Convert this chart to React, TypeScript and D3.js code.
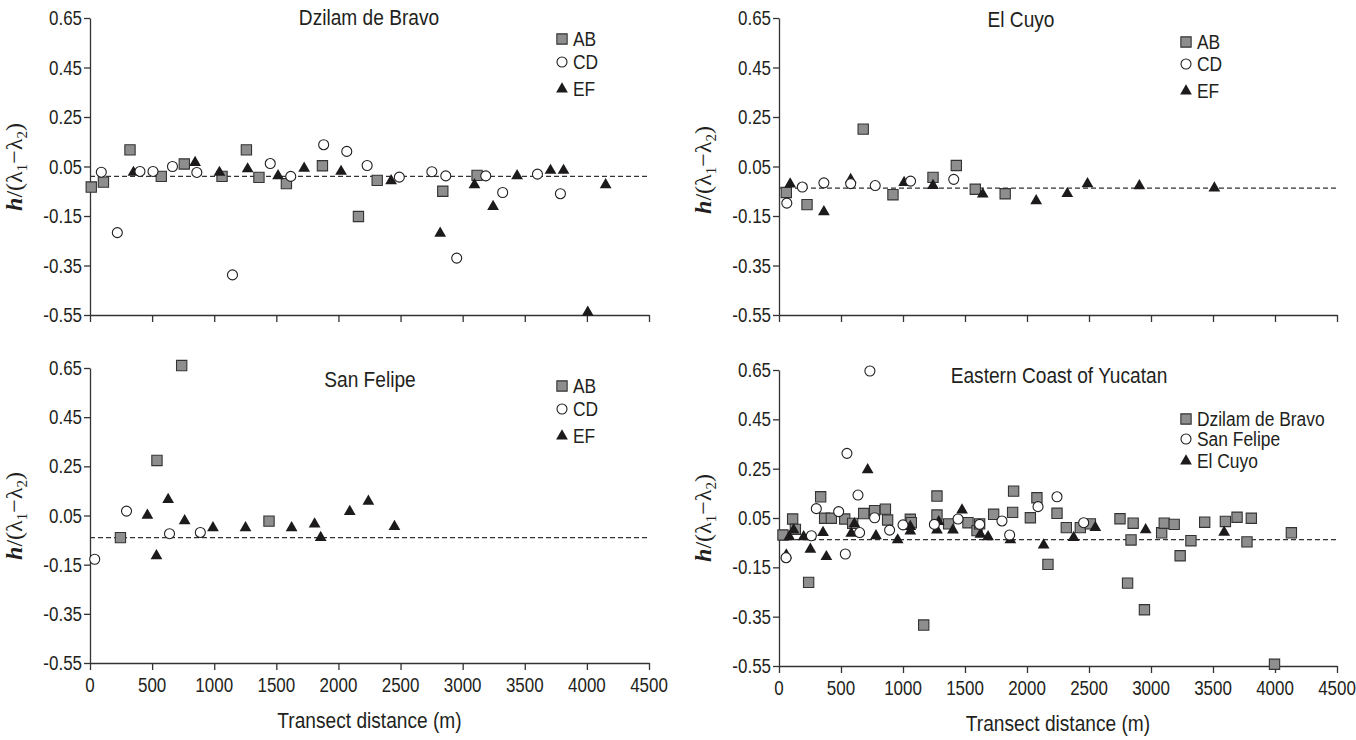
import React, { useRef, useEffect } from "react";
import * as d3 from "d3";

type Pt = [number, number];

const yTicks = [0.65, 0.45, 0.25, 0.05, -0.15, -0.35, -0.55];
const xTicks = [0, 500, 1000, 1500, 2000, 2500, 3000, 3500, 4000, 4500];

// Dzilam de Bravo
const dzilamAB: Pt[] = [
  [10, -0.033], [108, -0.013], [322, 0.117], [574, 0.01], [759, 0.06], [1063, 0.01],
  [1259, 0.117], [1360, 0.006], [1581, -0.019], [1871, 0.053], [2161, -0.152],
  [2312, -0.006], [2840, -0.05], [3116, 0.014],
];
const dzilamCD: Pt[] = [
  [91, 0.027], [220, -0.217], [402, 0.03], [507, 0.03], [664, 0.05], [860, 0.026],
  [1147, -0.388], [1451, 0.062], [1616, 0.01], [1881, 0.138], [2067, 0.111],
  [2231, 0.054], [2490, 0.007], [2752, 0.029], [2864, 0.012], [2952, -0.32],
  [3186, 0.012], [3322, -0.055], [3602, 0.019], [3787, -0.06],
];
const dzilamEF: Pt[] = [
  [350, 0.026], [846, 0.066], [1042, 0.026], [1269, 0.04], [1514, 0.012], [1724, 0.043],
  [2021, 0.03], [2424, -0.008], [2819, -0.22], [3095, -0.024], [3245, -0.112],
  [3438, 0.012], [3707, 0.034], [3812, 0.034], [4007, -0.539], [4151, -0.024],
];

// El Cuyo
const cuyoAB: Pt[] = [
  [59, -0.055], [226, -0.104], [679, 0.201], [919, -0.064], [1242, 0.006],
  [1430, 0.054], [1583, -0.042], [1824, -0.06],
];
const cuyoCD: Pt[] = [
  [63, -0.098], [188, -0.033], [362, -0.016], [578, -0.019], [776, -0.027],
  [1061, -0.009], [1409, -0.002],
];
const cuyoEF: Pt[] = [
  [90, -0.021], [362, -0.133], [578, -0.003], [1009, -0.015], [1242, -0.027],
  [1643, -0.062], [2074, -0.089], [2325, -0.06], [2488, -0.02], [2906, -0.028],
  [3511, -0.037],
];

// San Felipe
const felipeAB: Pt[] = [[245, -0.04], [539, 0.274], [738, 0.66], [1441, 0.027]];
const felipeCD: Pt[] = [[38, -0.128], [294, 0.068], [640, -0.024], [888, -0.019]];
const felipeEF: Pt[] = [
  [462, 0.051], [535, -0.114], [629, 0.115], [762, 0.028], [990, 0.0], [1252, 0.0],
  [1623, 0.0], [1808, 0.015], [1857, -0.04], [2091, 0.066], [2241, 0.108], [2451, 0.005],
];

// Eastern Coast of Yucatan
const eastDzilam: Pt[] = [
  [32, -0.019], [110, 0.046], [132, 0.004], [239, -0.211], [336, 0.136], [368, 0.049],
  [422, 0.049], [530, 0.046], [594, 0.028], [683, 0.068], [771, 0.08], [858, 0.086],
  [876, 0.042], [1059, 0.045], [1067, 0.031], [1167, -0.384], [1274, 0.139], [1274, 0.062],
  [1368, 0.026], [1524, 0.031], [1597, -0.001], [1618, 0.026], [1731, 0.065], [1884, 0.073],
  [1892, 0.159], [2027, 0.051], [2080, 0.132], [2169, -0.138], [2242, 0.069], [2317, 0.011],
  [2430, 0.011], [2511, 0.026], [2750, 0.047], [2811, -0.214], [2839, -0.039], [2856, 0.029],
  [2947, -0.322], [3086, -0.01], [3107, 0.029], [3187, 0.024], [3235, -0.103], [3322, -0.042],
  [3433, 0.033], [3600, 0.036], [3694, 0.053], [3774, -0.047], [3809, 0.049], [3996, -0.543],
  [4132, -0.01],
];
const eastFelipe: Pt[] = [
  [57, -0.111], [261, -0.022], [301, 0.088], [481, 0.076], [535, -0.096], [548, 0.312],
  [637, 0.143], [650, -0.009], [733, 0.646], [771, 0.051], [892, 0.001], [1000, 0.022],
  [1253, 0.024], [1444, 0.046], [1618, 0.024], [1798, 0.038], [1860, -0.019], [2089, 0.096],
  [2242, 0.136], [2457, 0.031],
];
const eastCuyo: Pt[] = [
  [59, -0.1], [83, -0.026], [118, 0.001], [199, -0.026], [253, -0.077], [355, -0.009],
  [382, -0.107], [583, -0.012], [608, 0.026], [715, 0.245], [782, -0.022], [957, -0.039],
  [1059, 0.015], [1059, -0.003], [1274, 0.001], [1288, 0.035], [1403, 0.001], [1476, 0.082],
  [1624, -0.016], [1686, -0.026], [1866, -0.039], [2134, -0.06], [2376, -0.029],
  [2551, 0.011], [2957, 0.002], [3590, -0.008],
];

const baselines = { dzilam: 0.01, cuyo: -0.037, felipe: -0.04, east: -0.038 };

type Shape = "square" | "circle" | "triangle";
interface Series { name: string; data: Pt[]; shape: Shape }

const abcSeries = (ab: Pt[], cd: Pt[], ef: Pt[]): Series[] => [
  { name: "AB", data: ab, shape: "square" },
  { name: "CD", data: cd, shape: "circle" },
  { name: "EF", data: ef, shape: "triangle" },
];

const panels = [
  {
    title: "Dzilam de Bravo", tx: 369, ty: 25, x0: 90, x1: 649, y0: 18, y1: 315,
    base: baselines.dzilam, series: abcSeries(dzilamAB, dzilamCD, dzilamEF),
    lx: 562, ly: [39, 62, 89], xlab: false, labY: 167,
  },
  {
    title: "El Cuyo", tx: 1021, ty: 27, x0: 779, x1: 1337, y0: 18, y1: 315,
    base: baselines.cuyo, series: abcSeries(cuyoAB, cuyoCD, cuyoEF),
    lx: 1186, ly: [42, 64, 91], xlab: false, labY: 170,
  },
  {
    title: "San Felipe", tx: 370, ty: 387, x0: 90, x1: 649, y0: 368, y1: 663,
    base: baselines.felipe, series: abcSeries(felipeAB, felipeCD, felipeEF),
    lx: 562, ly: [386, 409, 436], xlab: true, labY: 516, xlY: 728,
  },
  {
    title: "Eastern Coast of Yucatan", tx: 1059, ty: 383, x0: 779, x1: 1337, y0: 370, y1: 666,
    base: baselines.east,
    series: [
      { name: "Dzilam de Bravo", data: eastDzilam, shape: "square" },
      { name: "San Felipe", data: eastFelipe, shape: "circle" },
      { name: "El Cuyo", data: eastCuyo, shape: "triangle" },
    ] as Series[],
    lx: 1186, ly: [419, 439, 461], xlab: true, labY: 518, xlY: 731,
  },
];

const INK = "#231f20";
const SQX = 0.87; // horizontal squeeze for the condensed look

function drawMarker(g: any, shape: Shape, x: number, y: number) {
  if (shape === "circle") {
    g.append("circle").attr("cx", x).attr("cy", y).attr("r", 5)
      .attr("fill", "#fff").attr("stroke", INK).attr("stroke-width", 1.1);
  } else if (shape === "square") {
    g.append("path").attr("d", d3.symbol(d3.symbolSquare, 106)())
      .attr("transform", `translate(${x},${y})`)
      .attr("fill", "#8e8e8e").attr("stroke", "#333").attr("stroke-width", 1.1);
  } else {
    g.append("path").attr("d", d3.symbol(d3.symbolTriangle, 60)())
      .attr("transform", `translate(${x},${y})`)
      .attr("fill", "#1c1a1a");
  }
}

function addText(g: any, x: number, y: number, str: string, size: number, anchor = "start") {
  return g.append("text")
    .attr("transform", `translate(${x},${y}) scale(${SQX},1)`)
    .attr("text-anchor", anchor)
    .attr("font-size", size)
    .attr("fill", INK)
    .text(str);
}

function App() {
  const svgRef = useRef<SVGSVGElement>(null);

  useEffect(() => {
    document.body.style.margin = "0";
    const svg = d3.select(svgRef.current)
      .attr("width", 1356).attr("height", 740)
      .style("font-family", "'Liberation Sans', Arial, sans-serif");
    svg.selectAll("*").remove();
    svg.append("rect").attr("width", 1356).attr("height", 740).attr("fill", "#fff");

    panels.forEach((p) => {
      const x = d3.scaleLinear().domain([0, 4500]).range([p.x0, p.x1]);
      const y = d3.scaleLinear().domain([0.65, -0.55]).range([p.y0, p.y1]);
      const g = svg.append("g");

      // y axis
      const ya = g.append("g").attr("transform", `translate(${p.x0},0)`)
        .call(d3.axisLeft(y).tickValues(yTicks).tickSize(6).tickSizeOuter(0).tickFormat(() => ""));
      ya.select(".domain").attr("stroke", "#333").attr("stroke-width", 1.3);
      ya.selectAll("line").attr("stroke", "#333").attr("stroke-width", 1.3);
      yTicks.forEach((t) => {
        addText(g, p.x0 - 8, y(t) + 7, t.toFixed(2), 19.5, "end");
      });

      // x axis
      const xa = g.append("g").attr("transform", `translate(0,${p.y1})`)
        .call(d3.axisBottom(x).tickValues(xTicks).tickSize(7).tickSizeOuter(0).tickFormat(() => ""));
      xa.select(".domain").attr("stroke", "#333").attr("stroke-width", 1.3);
      xa.selectAll("line").attr("stroke", "#333").attr("stroke-width", 1.3);
      if (p.xlab) {
        xTicks.forEach((t) => addText(g, x(t), p.y1 + 29, String(t), 19.5, "middle"));
        addText(g, x(2250), p.xlY as number, "Transect distance (m)", 22, "middle");
      }

      // baseline
      g.append("line")
        .attr("x1", x(0)).attr("x2", x(4500))
        .attr("y1", y(p.base)).attr("y2", y(p.base))
        .attr("stroke", "#333").attr("stroke-width", 1.2)
        .attr("stroke-dasharray", "5,3");

      // points: squares, then triangles, then circles
      const order = ["square", "triangle", "circle"];
      [...p.series].sort((a, b) => order.indexOf(a.shape) - order.indexOf(b.shape))
        .forEach((s) => {
          s.data.forEach((d) => drawMarker(g, s.shape, x(d[0]), y(d[1])));
        });

      // title
      addText(g, p.tx, p.ty, p.title, 22, "middle");

      // legend
      p.series.forEach((s, i) => {
        drawMarker(g, s.shape, p.lx, p.ly[i]);
        addText(g, p.lx + 11, p.ly[i] + 7, s.name, 20, "start");
      });

      // y label h/(λ1−λ2)
      const lab = g.append("text")
        .attr("transform", `translate(${p.x0 - 68},${p.labY}) rotate(-90)`)
        .attr("text-anchor", "middle")
        .attr("font-size", 24)
        .attr("fill", INK)
        .attr("font-family", "'Liberation Serif', 'Times New Roman', serif");
      lab.append("tspan").attr("font-style", "italic").attr("font-weight", "bold").text("h");
      lab.append("tspan").text("/(λ");
      lab.append("tspan").attr("font-size", 15).attr("dy", 5).text("1");
      lab.append("tspan").attr("dy", -5).text("−λ");
      lab.append("tspan").attr("font-size", 15).attr("dy", 5).text("2");
      lab.append("tspan").attr("dy", -5).text(")");
    });
  }, []);

  return <svg ref={svgRef}></svg>;
}

export default App;
